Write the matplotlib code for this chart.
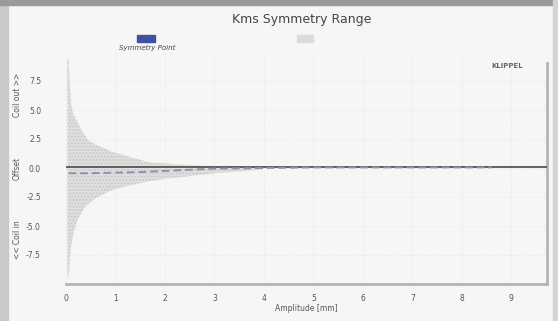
import matplotlib
matplotlib.use("Agg")
import matplotlib.pyplot as plt
from matplotlib.patches import Rectangle

# symmetry range envelope (gray cloud)
amp_env = [0.03, 0.05, 0.08, 0.11, 0.15, 0.24, 0.35, 0.45, 0.6, 0.93, 1.25, 1.5, 1.74, 2.0, 2.5, 3.0, 3.5, 4.0]
upper_env = [9.3, 9.5, 7.0, 5.3, 4.6, 3.9, 3.0, 2.4, 2.0, 1.4, 1.0, 0.7, 0.45, 0.4, 0.25, 0.15, 0.1, 0.05]
lower_env = [-9.2, -9.4, -7.9, -6.5, -5.6, -4.4, -3.6, -3.1, -2.6, -1.9, -1.55, -1.3, -1.1, -0.95, -0.7, -0.45, -0.3, -0.1]

# symmetry point
amp_sp = [0.05, 0.5, 1.0, 1.5, 2.0, 2.5, 3.0, 4.0, 5.0, 6.0, 7.0, 8.0, 8.6]
offset_sp = [-0.45, -0.45, -0.4, -0.35, -0.25, -0.15, -0.05, 0.0, 0.05, 0.05, 0.05, 0.05, 0.05]

xticks = [0, 1, 2, 3, 4, 5, 6, 7, 8, 9]
yticks = [-7.5, -5.0, -2.5, 0.0, 2.5, 5.0, 7.5]

W, H = 558, 321
fig = plt.figure(figsize=(W / 100, H / 100), dpi=100, facecolor='#f6f6f4')

# photo frame bits
fig.patches.append(Rectangle((0, 0), 8 / W, 1, transform=fig.transFigure, color='#c9c9c9', zorder=0))
fig.patches.append(Rectangle((0, 1 - 5 / H), 1, 5 / H, transform=fig.transFigure, color='#9a9a9a', zorder=0))
fig.patches.append(Rectangle((1 - 5 / W, 0), 5 / W, 1, transform=fig.transFigure, color='#d4d4d4', zorder=0))

ax = fig.add_axes([66 / W, 1 - 284 / H, 481 / W, 232 / H])
ax.set_facecolor('#f6f6f4')

ax.fill_between(amp_env, lower_env, upper_env, facecolor='#e0e0e0', edgecolor='#c8c8c8',
                hatch='.....', linewidth=0, zorder=2)
ax.axhline(0.05, color='#555555', lw=1.3, zorder=3)
ax.plot(amp_sp, offset_sp, color='#8a93ad', lw=1.4, ls=(0, (4, 2)), zorder=4)

ax.set_xlim(0, 9.72)
ax.set_ylim(-10, 10)
ax.set_xticks(xticks)
ax.set_yticks(yticks)
ax.set_yticklabels([f"{v:.1f}" for v in yticks])
ax.tick_params(length=0, labelsize=5.5, labelcolor='#555555')
ax.tick_params(axis='y', pad=18)
ax.tick_params(axis='x', pad=7)
ax.grid(True, color='#e4e4e4', lw=0.6, ls=':')

for s in ['top', 'left']:
    ax.spines[s].set_visible(False)
ax.spines['bottom'].set_color('#b4b4b4')
ax.spines['bottom'].set_linewidth(2)
ax.spines['right'].set_color('#b4b4b4')
ax.spines['right'].set_linewidth(2)
ax.spines['right'].set_bounds(-10, 9.05)

ax.set_xlabel('Amplitude [mm]', fontsize=5.5, color='#555555', labelpad=1)

fig.text(302 / W, 1 - 20 / H, 'Kms Symmetry Range', ha='center', va='center', fontsize=9, color='#444444')
fig.patches.append(Rectangle((137 / W, 1 - 42 / H), 18 / W, 7 / H, transform=fig.transFigure, color='#4250a0'))
fig.text(147 / W, 1 - 48 / H, 'Symmetry Point', ha='center', va='center', fontsize=5, style='italic', color='#444444')
fig.patches.append(Rectangle((297 / W, 1 - 42 / H), 16 / W, 7 / H, transform=fig.transFigure, color='#d8dce2'))
fig.text(507 / W, 1 - 66 / H, 'KLIPPEL', ha='center', va='center', fontsize=5, weight='bold', color='#666666')

fig.text(17 / W, 1 - 95 / H, 'Coil out >>', rotation=90, ha='center', va='center', fontsize=5.5, color='#555555')
fig.text(17 / W, 1 - 168 / H, 'Offset', rotation=90, ha='center', va='center', fontsize=5.5, color='#555555')
fig.text(17 / W, 1 - 240 / H, '<< Coil in', rotation=90, ha='center', va='center', fontsize=5.5, color='#555555')

fig.savefig('out.png', dpi=100, facecolor=fig.get_facecolor())
